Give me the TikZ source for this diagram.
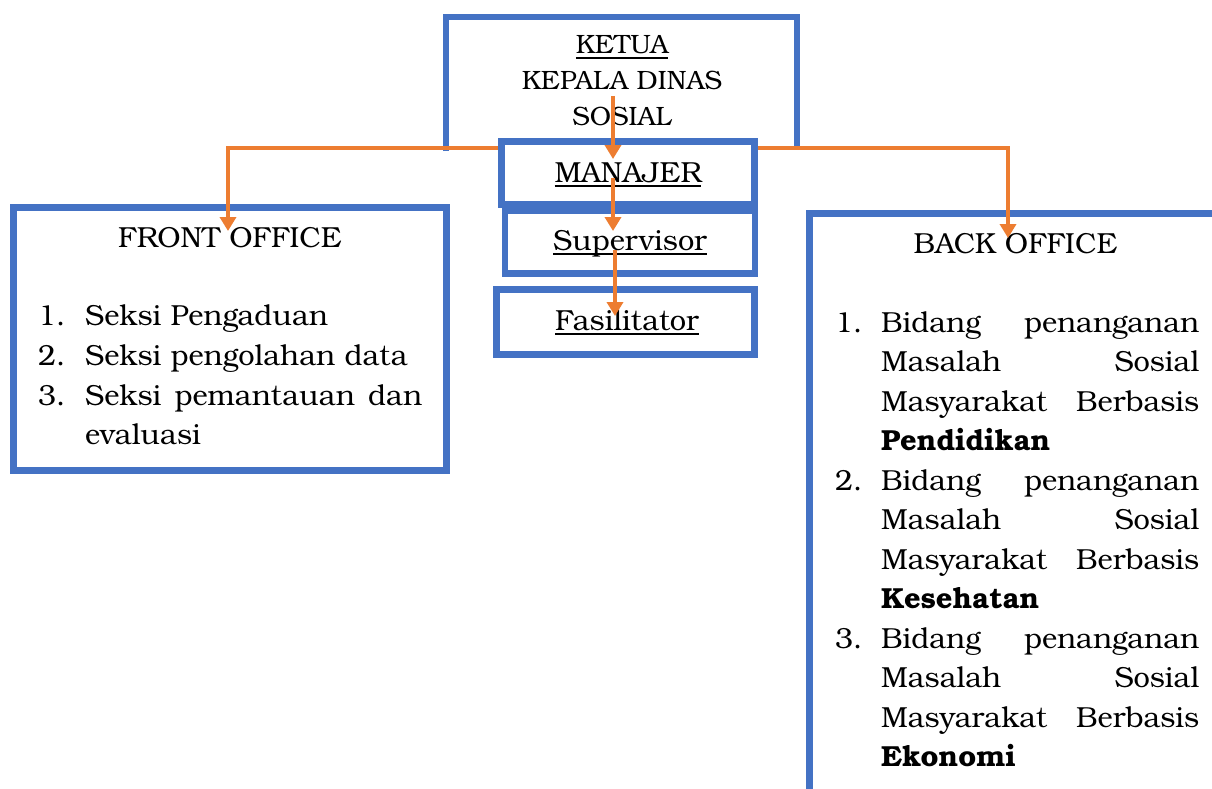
\documentclass[tikz,border=0pt]{standalone}
\usepackage{fontspec}
\setmainfont{texgyrebonum}[Extension=.otf,UprightFont=*-regular,BoldFont=*-bold,ItalicFont=*-italic,BoldItalicFont=*-bolditalic]
\usetikzlibrary{arrows.meta}
\definecolor{boxblue}{HTML}{4472C4}
\definecolor{linkorange}{HTML}{ED7D31}
\newsavebox\myulbox
\newcommand\wordul[1]{\sbox\myulbox{#1}\rlap{\rule[-5pt]{\wd\myulbox}{2pt}}\usebox\myulbox}
\tikzset{
  orgbox/.style={draw=boxblue, line width=6.5pt, fill=white, inner sep=0pt, rectangle},
  boxside/.style={draw=boxblue, line width=6.5pt},
  link/.style={draw=linkorange, line width=3.5pt, -{Triangle[width=16pt,length=14pt]}},
  linkbranch/.style={draw=linkorange, line width=3.5pt, -{Triangle[width=16pt,length=14pt]}},
  txt/.style={inner sep=0pt, anchor=base, font=\fontsize{29}{39.6}\selectfont},
  smalltxt/.style={inner sep=0pt, anchor=base, font=\fontsize{26.5}{35.5}\selectfont},
  ltxt/.style={inner sep=0pt, anchor=base west, font=\fontsize{29}{39.6}\selectfont},
}
\begin{document}
\begin{tikzpicture}[x=1pt,y=-1pt]
\useasboundingbox (0,0) rectangle (1212,789);
\clip (0,0) rectangle (1212,789);
% KETUA box (bottom edge hidden)
\node[inner sep=0pt, minimum width=351pt, minimum height=131pt] (ketua) at (621.5,82.5) {};
\draw[boxside] ([yshift=-3pt]ketua.south west) -- (ketua.north west) -- (ketua.north east) -- ([yshift=-1pt]ketua.south east);
\node[smalltxt] (t-ketua) at (622,54) {\wordul{KETUA}};
\node[smalltxt] (t-kepala) at (622,90) {KEPALA DINAS};
\node[smalltxt] (t-sosial) at (622,125) {SOSIAL};
% middle boxes
\node[orgbox, minimum width=250pt, minimum height=63pt] (sup) at (630,242) {};
\node[orgbox, minimum width=253pt, minimum height=63pt] (manajer) at (628,173) {};
\node[orgbox, minimum width=258pt, minimum height=65pt] (fas) at (625.5,322) {};
\node[txt] (t-manajer) at (628,182) {\wordul{MANAJER}};
\node[txt] (t-sup) at (630,250) {\wordul{Supervisor}};
\node[txt] (t-fas) at (627,330) {\wordul{Fasilitator}};
% front office
\node[orgbox, minimum width=433pt, minimum height=263pt] (front) at (230,339) {};
\node[txt] (t-front) at (230,247) {FRONT OFFICE};
\node[ltxt] (fn1) at (38,325) {1.};
\node[ltxt] (fn2) at (38,365) {2.};
\node[ltxt] (fn3) at (38,405) {3.};
\node[ltxt] (fl1) at (85,325) {Seksi Pengaduan};
\node[ltxt] (fl2) at (85,365) {Seksi pengolahan data};
\node[ltxt] (fl3) at (85,405) {\hbox to 337pt{Seksi\hfill pemantauan\hfill dan}};
\node[ltxt] (fl4) at (85,444) {evaluasi};
% back office (extends beyond the page)
\node[orgbox, minimum width=450.5pt, minimum height=616.5pt] (back) at (1034.75,521.75) {};
\node[txt] (t-back) at (1015.5,253) {BACK OFFICE};
\node[ltxt] (bn1) at (835,332) {1.};
\node[ltxt] (bn2) at (835,490) {2.};
\node[ltxt] (bn3) at (835,648) {3.};
\node[ltxt] (b1a) at (881,332) {\hbox to 318pt{Bidang\hfill penanganan}};
\node[ltxt] (b1b) at (881,371.5) {\hbox to 318pt{Masalah\hfill Sosial}};
\node[ltxt] (b1c) at (881,411) {\hbox to 318pt{Masyarakat\hfill Berbasis}};
\node[ltxt] (b1d) at (881,450.5) {\textbf{Pendidikan}};
\node[ltxt] (b2a) at (881,490) {\hbox to 318pt{Bidang\hfill penanganan}};
\node[ltxt] (b2b) at (881,529.5) {\hbox to 318pt{Masalah\hfill Sosial}};
\node[ltxt] (b2c) at (881,569) {\hbox to 318pt{Masyarakat\hfill Berbasis}};
\node[ltxt] (b2d) at (881,608.5) {\textbf{Kesehatan}};
\node[ltxt] (b3a) at (881,648) {\hbox to 318pt{Bidang\hfill penanganan}};
\node[ltxt] (b3b) at (881,687.5) {\hbox to 318pt{Masalah\hfill Sosial}};
\node[ltxt] (b3c) at (881,727) {\hbox to 318pt{Masyarakat\hfill Berbasis}};
\node[ltxt] (b3d) at (881,766.5) {\textbf{Ekonomi}};
% connector end points
\coordinate (k-src) at (613,96);
\coordinate (m-in) at (613,159);
\coordinate (m-src) at (613,178);
\coordinate (s-in) at (613,231);
\coordinate (s-src) at (615,250);
\coordinate (f-in) at (615,316);
\coordinate (fo-in) at (228,231);
\coordinate (bo-in) at (1008,238);
% connectors
\draw[linkbranch] (ketua.south -| manajer.west) -| (fo-in);
\draw[linkbranch] (ketua.south -| manajer.east) -| (bo-in);
\draw[link] (k-src) -- (m-in);
\draw[link] (m-src) -- (s-in);
\draw[link] (s-src) -- (f-in);
\end{tikzpicture}
\end{document}
